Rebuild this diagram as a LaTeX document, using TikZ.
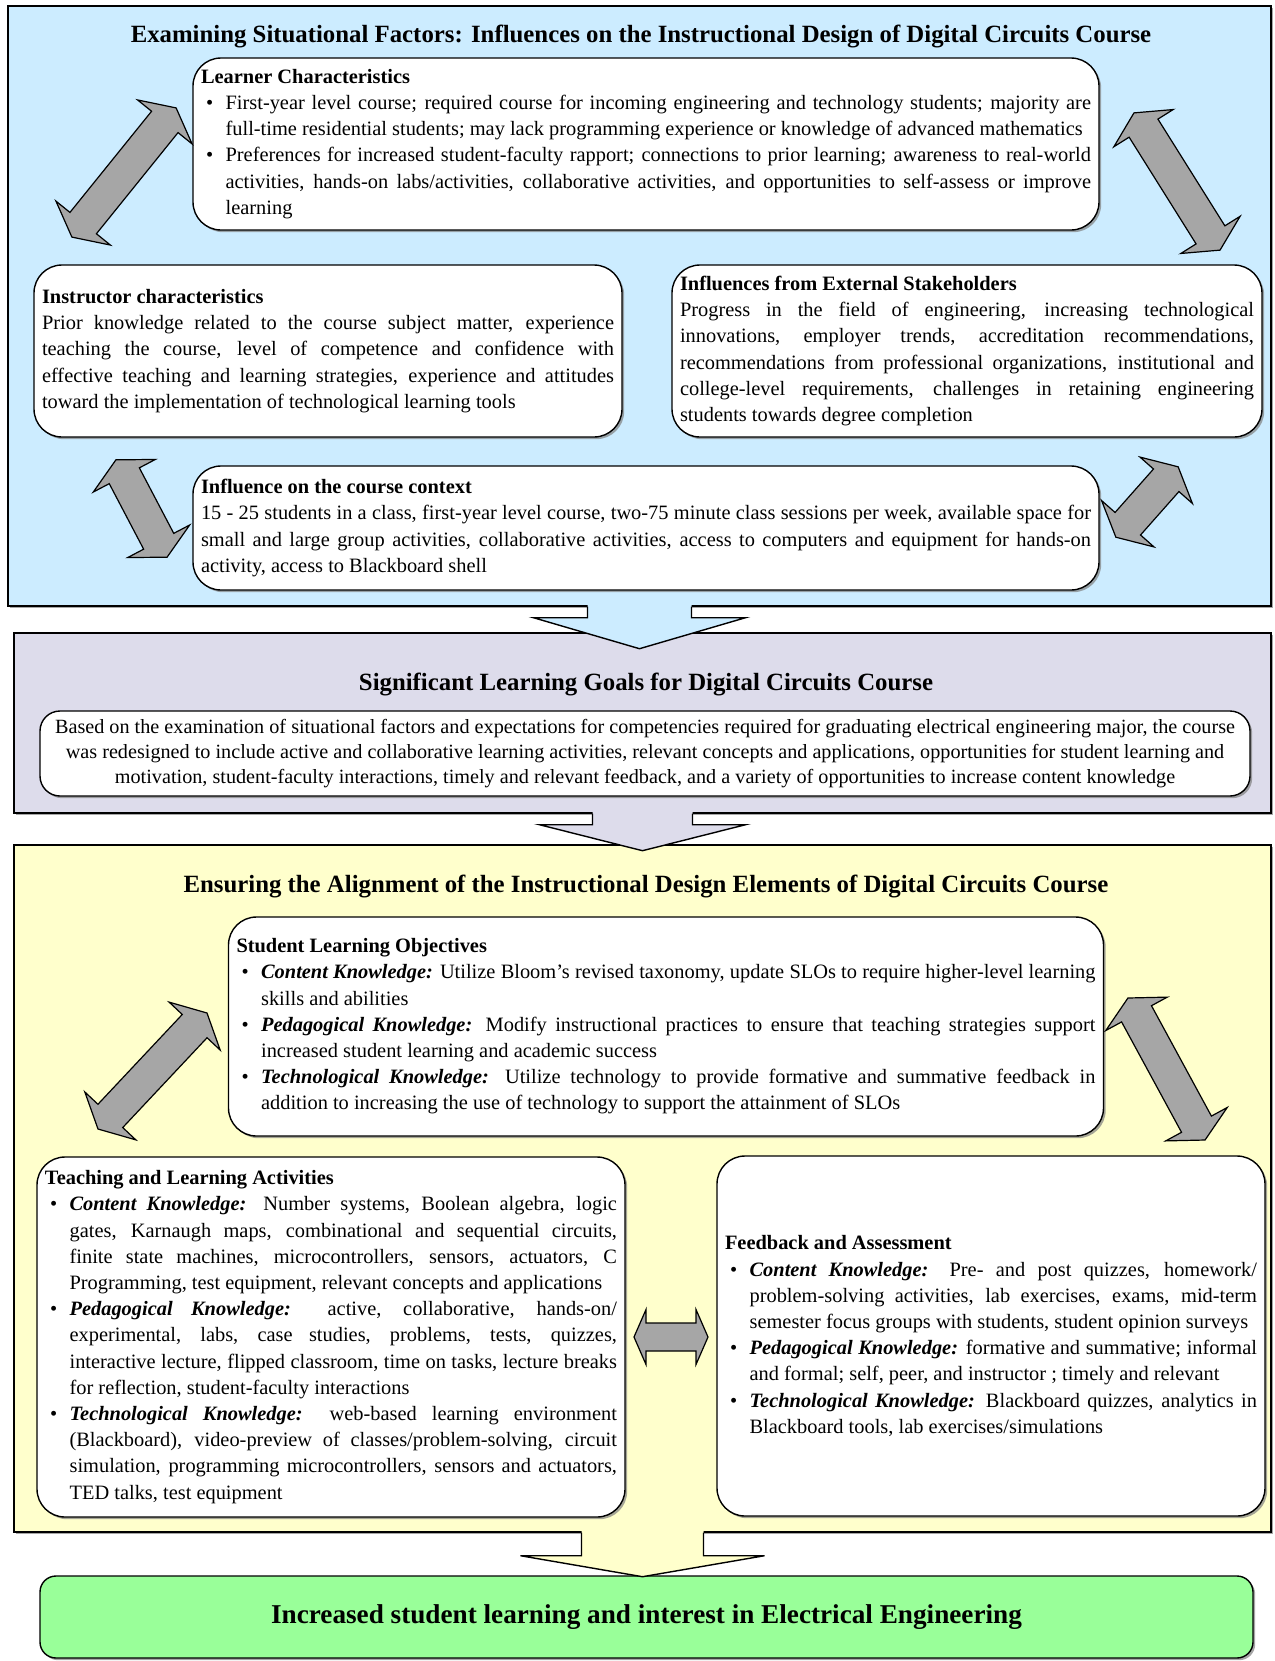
\documentclass[tikz,border=0pt]{standalone}
\usepackage{fontspec}
\setmainfont{Liberation Serif}
\usepackage{tikz}
\usetikzlibrary{calc,shadows}
\definecolor{sitblue}{RGB}{204,236,255}
\definecolor{goallilac}{RGB}{221,220,235}
\definecolor{alignyellow}{RGB}{255,255,204}
\definecolor{resultgreen}{RGB}{153,255,153}
\definecolor{arrowgray}{RGB}{166,166,166}
\setlength{\parindent}{0pt}
\newcommand{\boxhead}[1]{\textbf{#1}\par}
\newcommand{\bitem}{\par\hangindent=12.3pt\hangafter=1\noindent\hbox to 12.3pt{\hskip2.5pt\textbullet\hfil}\ignorespaces}
\newcommand{\kn}[1]{\textbf{\textit{#1}}}
% double block arrow: centre, angle, half length, shaft half width, head half width, head length
\newcommand{\dblarrow}[6]{%
  \draw[blockarrow, shift={(#1)}, rotate=#2] (-#3pt,0pt) -- ({-#3pt+#6pt},#5pt) -- ({-#3pt+#6pt},#4pt)
    -- ({#3pt-#6pt},#4pt) -- ({#3pt-#6pt},#5pt) -- (#3pt,0pt) -- ({#3pt-#6pt},-#5pt) -- ({#3pt-#6pt},-#4pt)
    -- ({-#3pt+#6pt},-#4pt) -- ({-#3pt+#6pt},-#5pt) -- cycle;}
% flow arrow hanging from a panel: anchor, fill, shaft half, head half, shaft end, tip
\newcommand{\flowarrow}[6]{%
  \begin{scope}[shift={(#1)}]
    \fill[#2] (-#3,-2) -- (-#3,#5) -- (-#4,#5) -- (0,#6) -- (#4,#5) -- (#3,#5) -- (#3,-2) -- cycle;
    \draw[arrowline] (-#3,0) -- (-#3,#5) -- (-#4,#5) -- (0,#6) -- (#4,#5) -- (#3,#5) -- (#3,0);
  \end{scope}}

\begin{document}
\begin{tikzpicture}[x=0.5pt, y=-0.5pt,
    every node/.style={font=\fontsize{10.2}{13.1}\selectfont, inner sep=0pt},
    dropshade/.style={drop shadow={shadow xshift=1.1pt, shadow yshift=-1.1pt, opacity=0.7}},
    panel/.style={draw, line width=0.7pt, dropshade},
    infobox/.style={draw, fill=white, line width=0.7pt, rounded corners=14pt, inner xsep=4pt, align=justify, dropshade},
    paneltitle/.style={font=\fontsize{12.4}{15}\selectfont\bfseries},
    blockarrow/.style={draw, fill=arrowgray, line width=0.6pt},
    arrowline/.style={line width=0.7pt}]
  \useasboundingbox (0,0) rectangle (1275,1661);

  % panels
  \node (p1) [panel, fill=sitblue, minimum width=631.5pt, minimum height=300pt] at (639.5,306) {};
  \node (p2) [panel, fill=goallilac, minimum width=628.5pt, minimum height=90pt] at (642.5,723) {};
  \node (p3) [panel, fill=alignyellow, minimum width=628.5pt, minimum height=343.5pt] at (642.5,1188.5) {};
  \node (result) [draw, fill=resultgreen, line width=0.7pt, rounded corners=8pt, dropshade,
    minimum width=606.5pt, minimum height=41pt, font=\fontsize{13.6}{16}\selectfont\bfseries]
    at (646.5,1617) {\raisebox{-1.5pt}{Increased student learning and interest in Electrical Engineering}};

  % situational factors
  \node (t1) [paneltitle] at (641,36) {Examining Situational Factors: Influences on the Instructional Design of Digital Circuits Course};
  \node (learner) [infobox, text width=445pt, minimum height=86pt] at (646,144) {%
    \boxhead{Learner Characteristics}
    \bitem First-year level course; required course for incoming engineering and technology students; majority are\linebreak
    full-time residential students; may lack programming experience or knowledge of advanced mathematics
    \bitem Preferences for increased student-faculty rapport; connections to prior learning; awareness to real-world\linebreak
    activities, hands-on labs/activities, collaborative activities, and opportunities to self-assess or improve\linebreak
    learning\par};
  \node (instr) [infobox, text width=286pt, minimum height=86pt] at (328,351) {%
    \boxhead{Instructor characteristics}
    Prior knowledge related to the course subject matter, experience\linebreak
    teaching the course, level of competence and confidence with\linebreak
    effective teaching and learning strategies, experience and attitudes\linebreak
    toward the implementation of technological learning tools};
  \node (extern) [infobox, text width=287pt, minimum height=86pt] at (967,351) {%
    \boxhead{Influences from External Stakeholders}
    Progress in the field of engineering, increasing technological\linebreak
    innovations, employer trends, accreditation recommendations,\linebreak
    recommendations from professional organizations, institutional and\linebreak
    college-level requirements, challenges in retaining engineering\linebreak
    students towards degree completion};
  \node (context) [infobox, text width=445pt, minimum height=62pt] at (646,528) {%
    \boxhead{Influence on the course context}
    15 - 25 students in a class, first-year level course, two-75 minute class sessions per week, available space for\linebreak
    small and large group activities, collaborative activities, access to computers and equipment for hands-on\linebreak
    activity, access to Blackboard shell};
  \dblarrow{124,172.5}{51.1}{41.5}{8.5}{17.5}{9}
  \dblarrow{1177,181.5}{-57.9}{40.5}{8.5}{17.5}{9}
  \dblarrow{141.5,508.5}{-62.3}{27.5}{8.5}{17.5}{9}
  \dblarrow{1147,502}{48.5}{23.5}{8.5}{17.5}{9}

  % learning goals
  \node (t2) [paneltitle] at (646,684) {Significant Learning Goals for Digital Circuits Course};
  \node (goals) [infobox, rounded corners=10pt, align=center, minimum width=605pt, minimum height=42.5pt,
    font=\fontsize{10.1}{12.6}\selectfont] at (645,753.5) {%
    Based on the examination of situational factors and expectations for competencies required for graduating electrical engineering major, the course\\
    was redesigned to include active and collaborative learning activities, relevant concepts and applications, opportunities for student learning and\\
    motivation, student-faculty interactions, timely and relevant feedback, and a variety of opportunities to increase content knowledge};

  % alignment of design elements
  \node (t3) [paneltitle] at (646,886) {Ensuring the Alignment of the Instructional Design Elements of Digital Circuits Course};
  \node (slo) [infobox, text width=429.5pt, minimum height=109.5pt] at (666,1026.5) {%
    \boxhead{Student Learning Objectives}
    \bitem \kn{Content Knowledge:} Utilize Bloom's revised taxonomy, update SLOs to require higher-level learning\linebreak
    skills and abilities
    \bitem \kn{Pedagogical Knowledge:} Modify instructional practices to ensure that teaching strategies support\linebreak
    increased student learning and academic success
    \bitem \kn{Technological Knowledge:} Utilize technology to provide formative and summative feedback in\linebreak
    addition to increasing the use of technology to support the attainment of SLOs\par};
  \node (teach) [infobox, text width=286pt, minimum height=180pt] at (331,1337) {%
    \boxhead{Teaching and Learning Activities}
    \bitem \kn{Content Knowledge:} Number systems, Boolean algebra, logic\linebreak
    gates, Karnaugh maps, combinational and sequential circuits,\linebreak
    finite state machines, microcontrollers, sensors, actuators, C\linebreak
    Programming, test equipment, relevant concepts and applications
    \bitem \kn{Pedagogical Knowledge:}\ \ active, collaborative, hands-on/\linebreak
    experimental, labs, case studies, problems, tests, quizzes,\linebreak
    interactive lecture, flipped classroom, time on tasks, lecture breaks\linebreak
    for reflection, student-faculty interactions
    \bitem \kn{Technological Knowledge:} web-based learning environment\linebreak
    (Blackboard), video-preview of classes/problem-solving, circuit\linebreak
    simulation, programming microcontrollers, sensors and actuators,\linebreak
    TED talks, test equipment\par};
  \node (feedb) [infobox, text width=266pt, minimum height=180pt] at (991,1336) {%
    \boxhead{Feedback and Assessment}
    \bitem \kn{Content Knowledge:} Pre- and post quizzes, homework/\linebreak
    problem-solving activities, lab exercises, exams, mid-term\linebreak
    semester focus groups with students, student opinion surveys
    \bitem \kn{Pedagogical Knowledge:} formative and summative; informal\linebreak
    and formal; self, peer, and instructor ; timely and relevant
    \bitem \kn{Technological Knowledge:} Blackboard quizzes, analytics in\linebreak
    Blackboard tools, lab exercises/simulations\par\vspace*{7pt}};
  \dblarrow{152.5,1071}{46.8}{39.8}{8.5}{17.5}{9}
  \dblarrow{1166.5,1069}{-61.5}{40.4}{8.5}{17.5}{9}
  \dblarrow{671,1337}{0}{18.5}{7}{13.75}{6}

  % flow between panels
  \flowarrow{p1.south}{sitblue}{52}{106}{11}{42}
  \flowarrow{p2.south}{goallilac}{50}{103}{11}{37}
  \flowarrow{p3.south}{alignyellow}{61}{122}{23}{44}
\end{tikzpicture}
\end{document}
